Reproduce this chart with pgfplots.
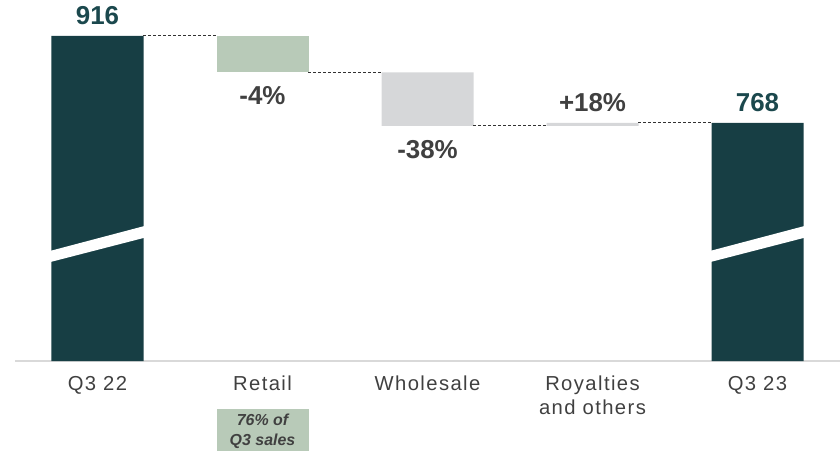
\documentclass[border=0pt]{standalone}
\usepackage{pgfplots}
\pgfplotsset{compat=1.18}
\usepackage{fontspec}
\setmainfont{Liberation Sans}
\newfontfamily\catfont[LetterSpace=7]{Liberation Sans}
\definecolor{barteal}{RGB}{23,62,68}
\definecolor{labteal}{RGB}{27,72,77}
\definecolor{retailgreen}{RGB}{184,202,184}
\definecolor{barGray}{RGB}{214,215,217}
\definecolor{labgray}{RGB}{64,64,64}
\definecolor{axisgray}{RGB}{217,217,217}
\definecolor{dashgray}{RGB}{50,50,50}
\begin{document}
\begin{tikzpicture}
\begin{axis}[
  at={(0,0)}, anchor=south west,
  width=825bp, height=361bp, scale only axis,
  xmin=-0.5, xmax=4.5, ymin=363, ymax=977,
  ybar stacked, bar width=92bp,
  hide y axis,
  axis x line=bottom,
  x axis line style={-, draw=axisgray, line width=1.3bp},
  xtick={0,1,2,3,4},
  xticklabels={Q3 22, Retail, Wholesale, {Royalties\\and others}, Q3 23},
  xticklabel style={font=\catfont\fontsize{20.3}{24}\selectfont, text=labgray, align=center, anchor=north, inner sep=0pt, yshift=-15bp},
  major tick length=0pt,
  clip=false,
]
% invisible base (top = start of each floating bar)
\addplot[fill=none, draw=none] coordinates {(0,363) (1,854) (2,763) (3,763) (4,363)};
% totals
\addplot[fill=barteal, draw=none] coordinates {(0,553) (1,0) (2,0) (3,0) (4,405)};
% retail
\addplot[fill=retailgreen, draw=none] coordinates {(0,0) (1,62) (2,0) (3,0) (4,0)};
% wholesale and royalties
\addplot[fill=barGray, draw=none] coordinates {(0,0) (1,0) (2,91) (3,5) (4,0)};
\node[fill=retailgreen, minimum width=92bp, minimum height=44bp, inner sep=0pt, anchor=north, align=center,
  font=\bfseries\itshape\fontsize{16}{20}\selectfont, text=labgray]
  at (axis cs:1,363) [yshift=-48bp] {76\% of\\Q3 sales};
\end{axis}
\begin{axis}[
  at={(0,0)}, anchor=south west,
  width=825bp, height=361bp, scale only axis,
  xmin=-0.5, xmax=4.5, ymin=363, ymax=977,
  hide axis, clip=false,
  point meta=explicit symbolic,
]
% connectors
\addplot[dashgray, line width=0.8bp, dash pattern=on 3bp off 2bp] coordinates {(0.2784,916) (0.7216,916)};
\addplot[dashgray, line width=0.8bp, dash pattern=on 3bp off 2bp] coordinates {(1.2784,854) (1.7216,854)};
\addplot[dashgray, line width=0.8bp, dash pattern=on 3bp off 2bp] coordinates {(2.2784,763) (2.7216,763)};
\addplot[dashgray, line width=0.8bp, dash pattern=on 3bp off 2bp] coordinates {(3.2784,768) (3.7216,768)};
% axis-break bands
\addplot[fill=white, draw=none] coordinates {(-0.29,550) (0.29,593) (0.29,573) (-0.29,531)};
\addplot[fill=white, draw=none] coordinates {(3.71,550) (4.29,593) (4.29,573) (3.71,531)};
% labels above bars
\addplot[only marks, mark=none, nodes near coords,
  every node near coord/.append style={anchor=base, inner sep=0pt, yshift=11bp, font=\bfseries\fontsize{26}{30}\selectfont, text=labteal}]
  coordinates {(0,916) [916] (4,768) [768]};
\addplot[only marks, mark=none, nodes near coords,
  every node near coord/.append style={anchor=base, inner sep=0pt, yshift=11bp, font=\bfseries\fontsize{26}{30}\selectfont, text=labgray}]
  coordinates {(3,768) [+18\%]};
% labels below decreases
\addplot[only marks, mark=none, nodes near coords,
  every node near coord/.append style={anchor=north, inner sep=0pt, yshift=-14bp, font=\bfseries\fontsize{26}{30}\selectfont, text=labgray}]
  coordinates {(1,854) [-4\%] (2,763) [-38\%]};
\end{axis}
\pgfresetboundingbox
\path (-15bp,-90bp) rectangle (825bp,361bp);
\end{tikzpicture}
\end{document}
